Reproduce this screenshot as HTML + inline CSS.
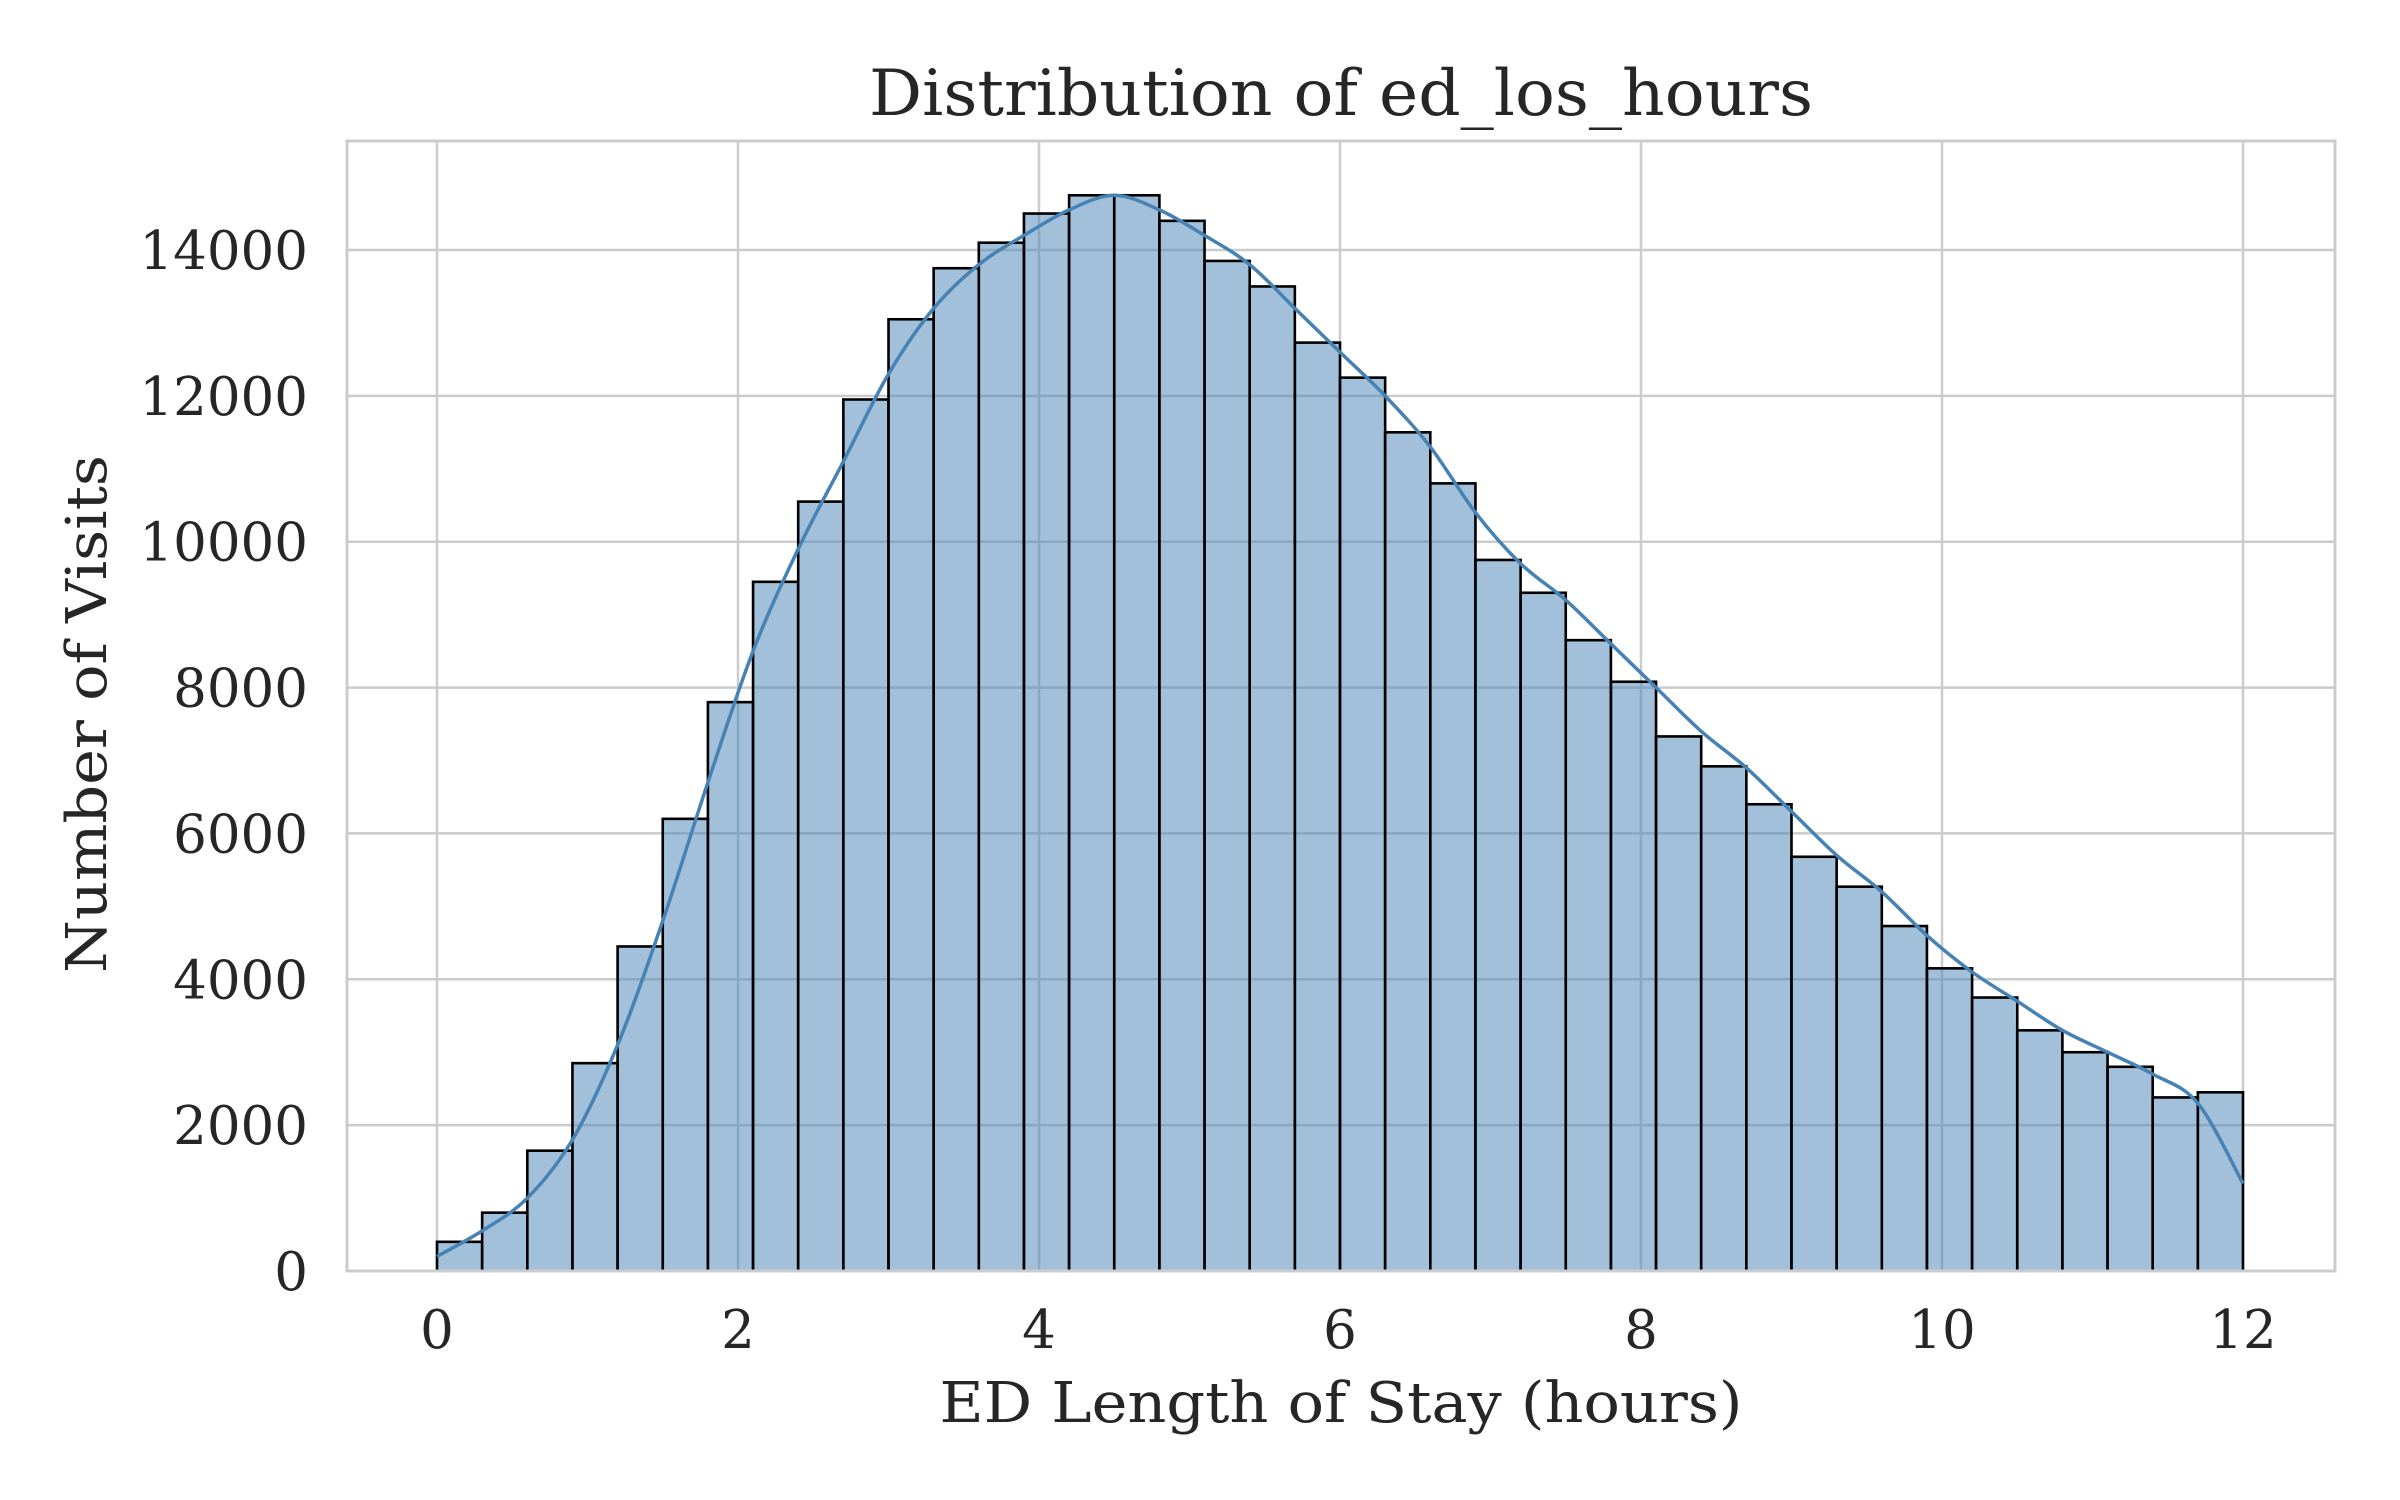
<!DOCTYPE html>
<html><head><meta charset="utf-8"><style>
html,body{margin:0;padding:0;background:#fff;}
svg{display:block;font-family:"DejaVu Serif","Liberation Serif",serif;}
</style></head><body>
<svg id="chart" width="2400" height="1500" viewBox="0 0 2400 1500">
<rect x="0" y="0" width="2400" height="1500" fill="#fff"/>
<g id="grid"></g>
<g id="bars"></g>
<path id="kde" fill="none" stroke="#4682b4" stroke-width="3.5"/>
<rect x="347" y="141" width="1988" height="1130" fill="none" stroke="#cccccc" stroke-width="3"/>
<g id="ticks"></g>
<text x="1341" y="115" text-anchor="middle" font-size="64" fill="#262626" textLength="944" lengthAdjust="spacingAndGlyphs">Distribution of ed_los_hours</text>
<text x="1341" y="1422" text-anchor="middle" font-size="56" fill="#262626" textLength="803" lengthAdjust="spacingAndGlyphs">ED Length of Stay (hours)</text>
<text transform="translate(106,714) rotate(-90)" text-anchor="middle" font-size="56" fill="#262626" textLength="518" lengthAdjust="spacingAndGlyphs">Number of Visits</text>
</svg>
<script>
const binEdgesStart = 0;
const binWidth = 0.3;
const counts = [400,800,1650,2850,4450,6200,7800,9450,10550,11950,13050,13750,14100,14500,14750,14750,14400,13850,13500,12730,12250,11500,10800,9750,9300,8650,8080,7330,6920,6400,5680,5270,4730,4150,3750,3300,3000,2800,2380,2450];
const kdeX = [0,0.3,0.6,0.9,1.2,1.5,1.8,2.1,2.4,2.7,3.0,3.3,3.6,3.9,4.2,4.5,4.8,5.1,5.4,5.7,6.0,6.3,6.6,6.9,7.2,7.5,7.8,8.1,8.4,8.7,9.0,9.3,9.6,9.9,10.2,10.5,10.8,11.1,11.4,11.7,12.0];
const kdeY = [200,550,1000,1800,3100,4800,6700,8500,9900,11100,12300,13200,13800,14200,14550,14750,14550,14200,13800,13200,12600,12000,11300,10400,9700,9200,8600,8000,7400,6900,6300,5700,5200,4600,4100,3700,3300,3000,2700,2300,1200];
const xTicks = [0,2,4,6,8,10,12];
const yTicks = [0,2000,4000,6000,8000,10000,12000,14000];

const NS = "http://www.w3.org/2000/svg";
const xs = v => 437 + v * 150.5;
const ys = v => 1271 - v * (1021 / 14000);
function mk(tag, attrs, parent) {
  const e = document.createElementNS(NS, tag);
  for (const k in attrs) e.setAttribute(k, attrs[k]);
  parent.appendChild(e);
  return e;
}
const grid = document.getElementById('grid');
const ticks = document.getElementById('ticks');
xTicks.forEach(t => {
  const l = mk('line', {x1: xs(t), x2: xs(t), y1: 141, y2: 1271, stroke: '#cccccc', 'stroke-width': 2.5}, grid);
  
  
  const tx = mk('text', {x: xs(t), y: 1348, 'text-anchor': 'middle', 'font-size': 53, fill: '#262626'}, ticks);
  tx.textContent = t;
  
  
});
yTicks.forEach(t => {
  const l = mk('line', {x1: 347, x2: 2335, y1: ys(t), y2: ys(t), stroke: '#cccccc', 'stroke-width': 2.5}, grid);
  
  
  const tx = mk('text', {x: 308, y: ys(t) + 19, 'text-anchor': 'end', 'font-size': 53, fill: '#262626'}, ticks);
  tx.textContent = t;
  
  
});
const bars = document.getElementById('bars');
counts.forEach((c, i) => {
  const x0 = xs(binEdgesStart + i * binWidth), x1 = xs(binEdgesStart + (i + 1) * binWidth);
  const r = mk('rect', {x: x0, y: ys(c), width: x1 - x0, height: ys(0) - ys(c), fill: 'rgba(70,130,180,0.5)', stroke: '#000', 'stroke-width': 2.6}, bars);
  
  
});
const pts = kdeX.map((x, i) => [xs(x), ys(kdeY[i])]);
let d = `M${pts[0][0]},${pts[0][1]}`;
for (let i = 0; i < pts.length - 1; i++) {
  const p0 = pts[Math.max(0, i - 1)], p1 = pts[i], p2 = pts[i + 1], p3 = pts[Math.min(pts.length - 1, i + 2)];
  const c1 = [p1[0] + (p2[0] - p0[0]) / 6, p1[1] + (p2[1] - p0[1]) / 6];
  const c2 = [p2[0] - (p3[0] - p1[0]) / 6, p2[1] - (p3[1] - p1[1]) / 6];
  d += ` C${c1[0]},${c1[1]} ${c2[0]},${c2[1]} ${p2[0]},${p2[1]}`;
}
document.getElementById('kde').setAttribute('d', d);
</script>
</body></html>
